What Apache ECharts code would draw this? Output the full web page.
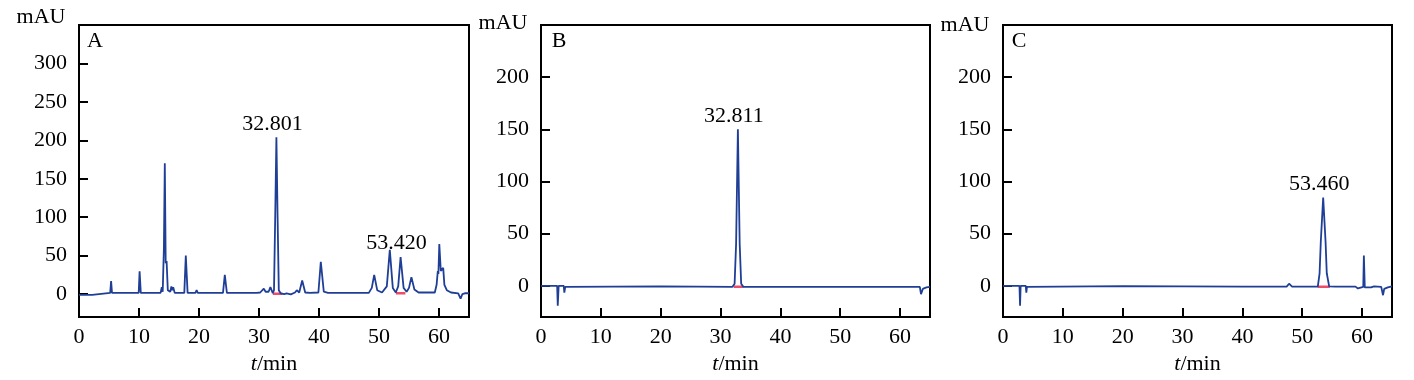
<!DOCTYPE html>
<html>
<head>
<meta charset="utf-8">
<script src="https://cdn.jsdelivr.net/npm/echarts@6/dist/echarts.min.js"></script>
<style>html,body{margin:0;padding:0;background:#fff}#c{width:1414px;height:380px}</style>
</head>
<body>
<div id="c"></div>
<script>
// ---- data (time in min, absorbance in mAU) ----
const traceA = [[0,-1],[2.2,-1],[2.5,1.5],[5.2,1.5],[5.35,17],[5.5,1.5],[9.95,1.5],[10.1,29.5],[10.3,1.5],[13.6,1.5],[13.8,9],[13.95,3],[14.15,60],[14.3,170],[14.45,40],[14.6,43],[14.8,5],[15.2,3],[15.4,10],[15.55,5],[15.7,9],[15.95,1.5],[17.55,1.5],[17.8,50],[18.1,1.5],[19.4,1.5],[19.6,5],[19.8,1.5],[24.0,1.5],[24.3,25],[24.65,1.5],[29.6,1.5],[29.9,4],[30.2,2],[30.8,7],[31.1,3],[31.4,5],[31.6,3],[31.9,9],[32.3,1],[32.5,5],[32.7,100],[32.9,204],[33.1,100],[33.3,5],[33.6,1],[34.2,0],[34.6,1],[35.3,-0.5],[36.0,2],[36.3,5],[36.7,2],[37.2,17.5],[37.7,2],[38.5,1.5],[39.9,2],[40.3,42],[40.8,3],[41.5,1.5],[48.3,1.5],[48.8,8],[49.2,25],[49.7,5],[50.5,2],[51.3,10],[51.8,57.5],[52.3,8],[52.8,2],[53.2,10],[53.6,48],[54.1,8],[54.6,3],[55.0,8],[55.4,22],[55.9,6],[56.6,2],[59.3,2],[59.6,12],[59.8,30],[59.9,26],[60.05,65],[60.3,30],[60.5,28],[60.7,34],[60.9,12],[61.3,5],[62.0,2],[63.2,1],[63.6,-6],[63.9,0],[64.3,1],[65,1]];
const traceB = [[0,0],[2.7,0],[2.8,-19],[2.95,0],[3.8,0],[3.9,-6.6],[4.05,-1],[4.3,0],[20,-0.5],[32.0,-1],[32.35,2],[32.6,40],[32.9,150],[33.2,40],[33.45,2],[33.8,-1],[50,-1],[63.3,-1],[63.5,-8],[63.8,-3],[64.4,-1.5],[65,-1]];
const traceC = [[0,0],[2.75,0],[2.85,-19],[2.95,0],[3.8,0],[3.9,-6.6],[4.0,-1],[4.3,0],[20,-0.3],[40,-0.8],[47.4,-0.8],[47.8,2],[48.3,-0.8],[52.6,-0.8],[52.9,12],[53.1,42],[53.5,84.5],[53.9,42],[54.1,12],[54.5,-0.5],[55.5,-0.8],[58.9,-0.8],[59.3,-2.5],[59.6,-1],[60.2,-1],[60.3,29],[60.45,-1.5],[61.5,-1.5],[62.0,-0.5],[63.2,-1],[63.5,-9],[63.7,-3],[64.3,-1.5],[65,-0.5]];
// integration baselines (start/end time, level)
const integA = [[[32.3,0.5],[33.9,0.5]],[[52.8,1],[54.4,1]]];
const integB = [[[32.2,-1],[33.8,-1]]];
const integC = [[[52.6,-0.8],[54.6,-0.8]]];
// labelled peaks: [retention time, apex height, label]
const peaksA = [[32.9,204,'32.801'],[53.6,48,'53.420']];
const peaksB = [[32.9,150,'32.811']];
const peaksC = [[53.5,84.5,'53.460']];
const xTicks = [0,10,20,30,40,50,60];
const yTicksA = [0,50,100,150,200,250,300];
const yTicksBC = [0,50,100,150,200];
const panelLetters = ['A','B','C'];
const yUnit = 'mAU';

// ---- styles ----
const FONT = 'Liberation Serif, Times New Roman, serif';
const FS = 22;
const LINE = '#1f3f96';
const RED = '#ee4d6a';

const grids = [
  {left:79, top:25, width:390, height:295},
  {left:541, top:25, width:389, height:295},
  {left:1003, top:25, width:389, height:295}
];
const yRanges = [[-30,350,yTicksA],[-30,250,yTicksBC],[-30,250,yTicksBC]];
const txt = (s,x,y) => ({type:'text', x:x, y:y, z:10, style:{text:s, fill:'#000', font:FS+'px '+FONT, textAlign:'center', textVerticalAlign:'middle'}});

const option = {
  animation:false,
  backgroundColor:'#fff',
  grid: grids.map(g => Object.assign({show:true, borderColor:'#000', borderWidth:2, containLabel:false}, g)),
  xAxis: grids.map((g,i) => ({
    gridIndex:i, type:'value', min:0, max:65,
    axisLine:{show:true, onZero:false, lineStyle:{color:'#000', width:2}},
    axisTick:{show:true, inside:true, length:9, lineStyle:{color:'#000', width:2}, customValues:xTicks},
    axisLabel:{color:'#000', fontFamily:FONT, fontSize:FS, margin:9, customValues:xTicks},
    splitLine:{show:false},
    name:'{i|t}{n|/min}', nameLocation:'middle', nameGap:32,
    nameTextStyle:{rich:{i:{fontFamily:FONT, fontSize:FS, fontStyle:'italic', color:'#000'}, n:{fontFamily:FONT, fontSize:FS, color:'#000'}}}
  })),
  yAxis: grids.map((g,i) => ({
    gridIndex:i, type:'value', min:yRanges[i][0], max:yRanges[i][1],
    axisLine:{show:true, onZero:false, lineStyle:{color:'#000', width:2}},
    axisTick:{show:true, inside:true, length:9, lineStyle:{color:'#000', width:2}, customValues:yRanges[i][2]},
    axisLabel:{color:'#000', fontFamily:FONT, fontSize:FS, margin:12, customValues:yRanges[i][2]},
    splitLine:{show:false}
  })),
  graphic: [
    txt(yUnit,41,17), txt(yUnit,503,23), txt(yUnit,965,25),
    txt(panelLetters[0],95,41), txt(panelLetters[1],559,41), txt(panelLetters[2],1019,41)
  ],
  series: []
};

const traces = [traceA, traceB, traceC];
const integs = [integA, integB, integC];
const peaks = [peaksA, peaksB, peaksC];
traces.forEach((tr,i) => {
  option.series.push({type:'line', xAxisIndex:i, yAxisIndex:i, data:tr, showSymbol:false, symbol:'none',
    lineStyle:{color:LINE, width:1.8}, z:3});
  integs[i].forEach(seg => option.series.push({type:'line', xAxisIndex:i, yAxisIndex:i, data:seg, symbol:'none',
    lineStyle:{color:RED, width:2.5}, z:2}));
  option.series.push({type:'scatter', xAxisIndex:i, yAxisIndex:i, symbolSize:1, itemStyle:{color:'#fff', opacity:0},
    data:peaks[i].map(p => ({value:[p[0],p[1]], name:p[2]})),
    label:{show:true, position:'top', distance:2, offset:[-4,0], formatter:p => p.name, color:'#000', opacity:1,
      textBorderWidth:0, fontFamily:FONT, fontSize:FS}, z:4});
});

const chart = echarts.init(document.getElementById('c'), null, {renderer:'canvas'});
chart.setOption(option);
</script>
</body>
</html>
